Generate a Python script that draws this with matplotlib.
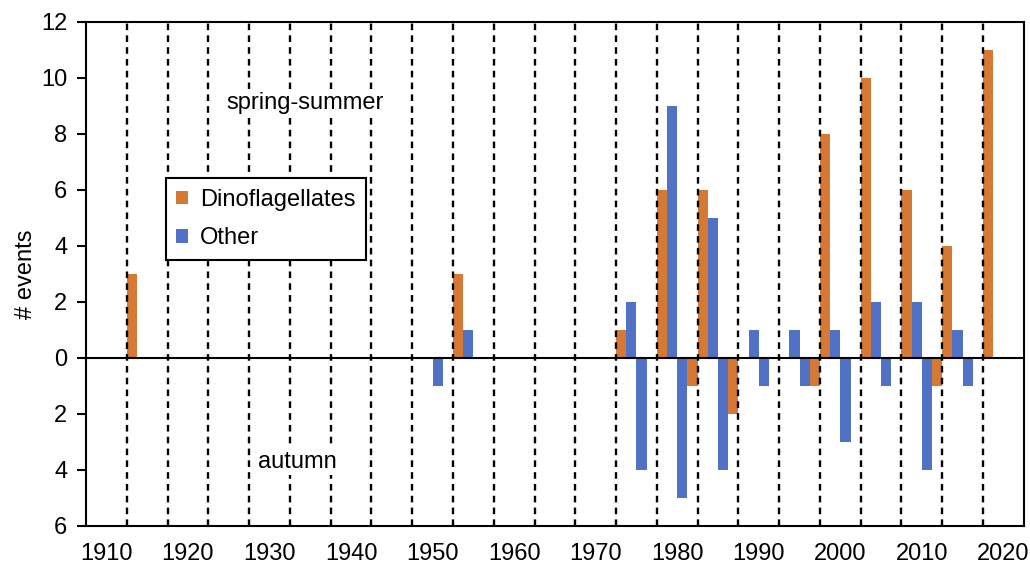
import matplotlib.pyplot as plt
import numpy as np

# 5-year bins, labelled by their centre year
bin_years = [1910, 1915, 1920, 1925, 1930, 1935, 1940, 1945, 1950, 1955, 1960, 1965,
             1970, 1975, 1980, 1985, 1990, 1995, 2000, 2005, 2010, 2015, 2020]
dino_spring = [0, 3, 0, 0, 0, 0, 0, 0, 0, 3, 0, 0, 0, 1, 6, 6, 0, 0, 8, 10, 6, 4, 11]
other_spring = [0, 0, 0, 0, 0, 0, 0, 0, 0, 1, 0, 0, 0, 2, 9, 5, 1, 1, 1, 2, 2, 1, 0]
other_autumn = [0, 0, 0, 0, 0, 0, 0, 0, 1, 0, 0, 0, 0, 4, 5, 4, 1, 1, 3, 1, 4, 1, 0]
dino_autumn = [0, 0, 0, 0, 0, 0, 0, 0, 0, 0, 0, 0, 0, 0, 1, 2, 0, 1, 0, 0, 1, 0, 0]
x_ticks = [1910, 1920, 1930, 1940, 1950, 1960, 1970, 1980, 1990, 2000, 2010, 2020]
y_ticks = [-6, -4, -2, 0, 2, 4, 6, 8, 10, 12]

ORANGE = "#D67934"
BLUE = "#5171C5"

plt.rcParams["font.family"] = ["Liberation Sans", "DejaVu Sans"]
plt.rcParams["font.size"] = 17

fig = plt.figure(figsize=(10.30, 5.64), dpi=100)
ax = fig.add_axes([0.0835, 0.0674, 0.9105, 0.8936])

centres = np.array(bin_years, dtype=float)
w = 1.25
ax.bar(centres - 2 * w, dino_spring, width=w, align="edge", color=ORANGE,
       label="Dinoflagellates", zorder=2)
ax.bar(centres - w, other_spring, width=w, align="edge", color=BLUE,
       label="Other", zorder=2)
ax.bar(centres, -np.array(other_autumn), width=w, align="edge", color=BLUE, zorder=2)
ax.bar(centres + w, -np.array(dino_autumn), width=w, align="edge", color=ORANGE,
       zorder=2)

# bin separators
for b in centres[:-1] + 2.5:
    ax.axvline(b, color="black", lw=1.7, ls=(0, (2.8, 2.2)), zorder=3)
ax.axhline(0, color="black", lw=1.5, zorder=4)

ax.set_xlim(1907.5, 2022.5)
ax.set_ylim(-6, 12)
ax.set_xticks(x_ticks)
ax.set_yticks(y_ticks)
ax.set_yticklabels([str(abs(v)) for v in y_ticks])
ax.tick_params(axis="x", length=0, pad=12)
ax.tick_params(axis="y", length=6.5, width=1.5, direction="out", pad=7)
ax.set_ylabel("# events", labelpad=3)
for sp in ax.spines.values():
    sp.set_linewidth(1.5)

ax.text(1934.4, 9.1, "spring-summer", ha="center", va="center", zorder=5,
        bbox=dict(facecolor="white", edgecolor="none", pad=2))
ax.text(1933.4, -3.7, "autumn", ha="center", va="center", zorder=5,
        bbox=dict(facecolor="white", edgecolor="none", pad=2))

leg = ax.legend(loc="upper left", bbox_to_anchor=(0.085, 0.69), fancybox=False,
                edgecolor="black", framealpha=1, handlelength=0.5, handleheight=0.5,
                handletextpad=0.5, labelspacing=0.7, borderpad=0.45, borderaxespad=0)
leg.get_frame().set_linewidth(1.5)
leg.set_zorder(6)

fig.savefig("out.png", dpi=100)
